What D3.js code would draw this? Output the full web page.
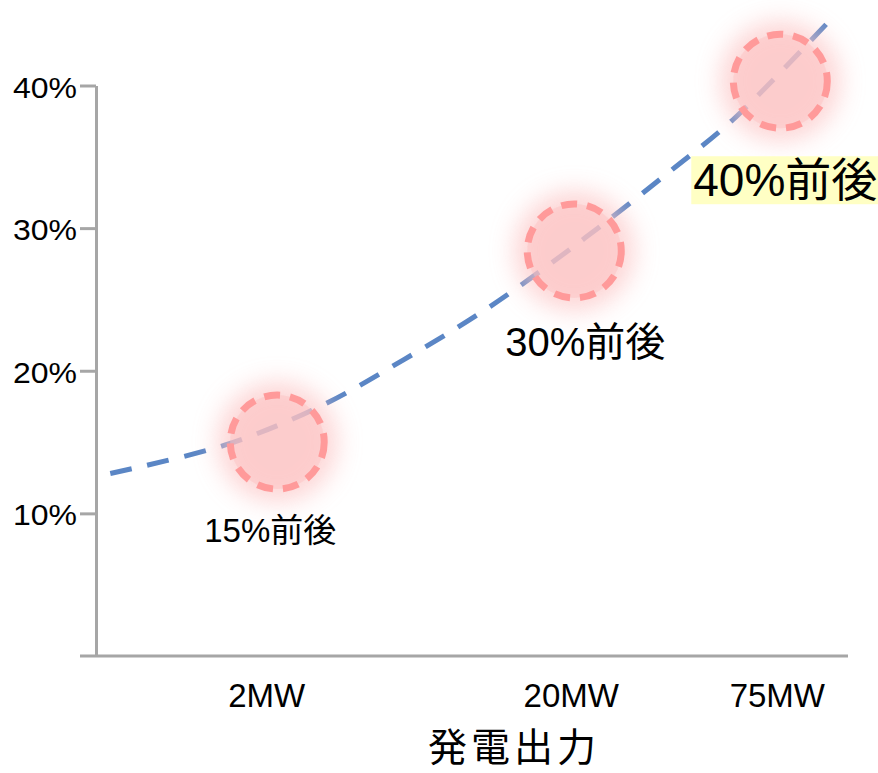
<!DOCTYPE html>
<html>
<head>
<meta charset="utf-8">
<script src="https://cdn.jsdelivr.net/npm/d3@7"></script>
<style>
  body { margin: 0; background: #fff; }
  svg text { font-family: "Liberation Sans", Arial, "Noto Sans CJK JP", sans-serif; fill: #000; }
</style>
</head>
<body>
<div id="viz"></div>
<script>
// data
var categories = ["2MW", "20MW", "75MW"];
var categoryPos = [22.7, 63.2, 90.6];      // position along the output axis (0-100)
var circleX = [24.1, 63.6, 91.0];
var circleValues = [15.0, 28.4, 40.3];     // %
var circleLabels = ["15%前後", "30%前後", "40%前後"];
var yTickValues = [10, 20, 30, 40];
var curveX = [1.9, 17.2, 29.8, 41.0, 52.4, 65.0, 76.6, 84.7, 98.0];
var curveY = [12.8, 14.8, 17.5, 20.8, 24.5, 29.3, 34.1, 37.6, 44.8];
var xTitle = "発電出力";

var width = 878, height = 773;

var xScale = d3.scaleLinear().domain([0, 100]).range([96, 848]);
var yScale = d3.scaleLinear().domain([0, 40]).range([656, 85.5]);

var svg = d3.select("#viz").append("svg")
    .attr("width", width)
    .attr("height", height);

var defs = svg.append("defs");
defs.append("filter")
    .attr("id", "glow")
    .attr("x", "-80%").attr("y", "-80%")
    .attr("width", "260%").attr("height", "260%")
  .append("feGaussianBlur")
    .attr("stdDeviation", 12);

// axes
var axisColor = "#a6a6a6";

var yAxis = d3.axisLeft(yScale)
    .tickValues(yTickValues)
    .tickSize(16)
    .tickSizeOuter(0)
    .tickPadding(3)
    .tickFormat(function(d) { return d + "%"; });

var yGuide = svg.append("g")
    .attr("transform", "translate(" + xScale(0) + ",0)")
    .call(yAxis);
yGuide.selectAll("path, line")
    .attr("stroke", axisColor)
    .attr("stroke-width", 3);
yGuide.selectAll("text")
    .attr("font-size", 29)
    .attr("dy", "0.4em")
    .attr("textLength", 64)
    .attr("lengthAdjust", "spacingAndGlyphs")
    .style("font-family", '"Liberation Sans", Arial, sans-serif');

svg.append("line")
    .attr("x1", xScale(0) - 16)
    .attr("x2", xScale(100))
    .attr("y1", yScale(0))
    .attr("y2", yScale(0))
    .attr("stroke", axisColor)
    .attr("stroke-width", 3);

// category labels
svg.selectAll(".cat")
  .data(categories)
  .enter().append("text")
    .attr("class", "cat")
    .attr("x", function(d, i) { return xScale(categoryPos[i]); })
    .attr("y", 707)
    .attr("text-anchor", "middle")
    .attr("font-size", 33)
    .text(function(d) { return d; });

svg.append("text")
    .attr("x", 514)
    .attr("y", 761)
    .attr("text-anchor", "middle")
    .attr("font-size", 39)
    .attr("letter-spacing", 4)
    .style("font-family", '"Noto Sans CJK JP", sans-serif')
    .text(xTitle);

// trend line
var curveData = curveX.map(function(x, i) { return {x: x, y: curveY[i]}; });
var lineFunc = d3.line()
    .x(function(d) { return xScale(d.x); })
    .y(function(d) { return yScale(d.y); })
    .curve(d3.curveCatmullRom);

svg.append("path")
    .attr("d", lineFunc(curveData))
    .attr("fill", "none")
    .attr("stroke", "#5b86c5")
    .attr("stroke-width", 5)
    .attr("stroke-dasharray", "22 16");

// circles
var pts = circleValues.map(function(v, i) { return {x: circleX[i], y: v, label: circleLabels[i]}; });

svg.selectAll(".halo")
  .data(pts)
  .enter().append("circle")
    .attr("class", "halo")
    .attr("cx", function(d) { return xScale(d.x); })
    .attr("cy", function(d) { return yScale(d.y); })
    .attr("r", 60)
    .attr("fill", "#fcc4c4")
    .attr("opacity", 0.7)
    .attr("filter", "url(#glow)");

svg.selectAll(".spot")
  .data(pts)
  .enter().append("circle")
    .attr("class", "spot")
    .attr("cx", function(d) { return xScale(d.x); })
    .attr("cy", function(d) { return yScale(d.y); })
    .attr("r", 47)
    .attr("fill", "rgba(252,190,190,0.4)")
    .attr("stroke", "#ff9a9a")
    .attr("stroke-width", 7)
    .attr("stroke-dasharray", "16 10");

// labels under circles
var labelSize = [33, 40, 46];
var labelDx = [-7, 11, 5];
var labelDy = [100, 105, 115];

var labels = svg.selectAll(".lbl")
  .data(pts)
  .enter().append("g")
    .attr("class", "lbl");

labels.append("text")
    .attr("x", function(d, i) { return xScale(d.x) + labelDx[i]; })
    .attr("y", function(d, i) { return yScale(d.y) + labelDy[i]; })
    .attr("text-anchor", "middle")
    .attr("font-size", function(d, i) { return labelSize[i]; })
    .text(function(d) { return d.label; });

// highlight behind the last label
var last = labels.filter(function(d, i) { return i === pts.length - 1; });
var bb = last.select("text").node().getBBox();
last.insert("rect", "text")
    .attr("x", bb.x - 2)
    .attr("y", bb.y + 2)
    .attr("width", bb.width + 4)
    .attr("height", bb.height - 4)
    .attr("fill", "#ffffc4");
</script>
</body>
</html>
